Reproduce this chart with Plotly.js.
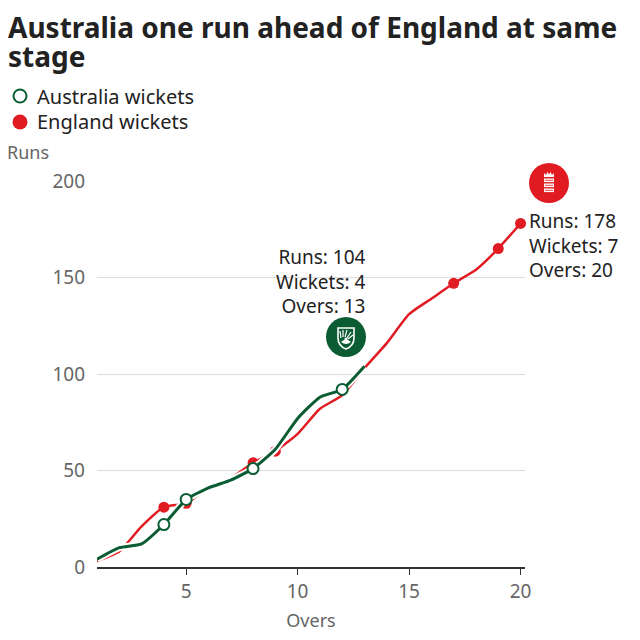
<!DOCTYPE html>
<html><head><meta charset="utf-8">
<script src="https://cdn.plot.ly/plotly-3.0.1.min.js"></script>
<style>html,body{margin:0;padding:0;background:#fff}#c{width:640px;height:640px}</style>
</head><body><div id="c"></div>
<script>
const ausOvers = [1,2,3,4,5,6,7,8,9,10,11,12,13];
const ausRuns  = [4,10,12,22,35,41,45,51,61,77,88,92,104];
const engOvers = [1,2,3,4,5,6,7,8,9,10,11,12,13,14,15,16,17,18,19,20];
const engRuns  = [3,8,21,31,33,41,46,54,60,69,82,89,103,116,131,139,147,154,165,178];
const ausWicketOvers = [4,5,8,12];
const engWicketOvers = [4,5,8,9,17,19,20];
const xTicks = [5,10,15,20];
const yTicks = [0,50,100,150,200];
const legendLabels = ['Australia wickets', 'England wickets'];
const titleLines = ['Australia one run ahead of England at same', 'stage'];

const GREEN = '#0b5c33', RED = '#e11b22';
const FONT = 'Noto Sans, sans-serif';

const ausWR = ausWicketOvers.map(o => ausRuns[ausOvers.indexOf(o)]);
const engWR = engWicketOvers.map(o => engRuns[engOvers.indexOf(o)]);

const traces = [
  {x: engOvers, y: engRuns, mode: 'lines', line: {color: RED, width: 2.5, shape: 'spline', smoothing: 0.5}, hoverinfo: 'skip'},
  {x: engWicketOvers, y: engWR, mode: 'markers', marker: {color: RED, size: 11}, cliponaxis: false},
  {x: ausOvers, y: ausRuns, mode: 'lines', line: {color: '#ffffff', width: 7, shape: 'spline', smoothing: 0.5}, hoverinfo: 'skip'},
  {x: ausOvers, y: ausRuns, mode: 'lines', line: {color: GREEN, width: 3, shape: 'spline', smoothing: 0.5}, hoverinfo: 'skip'},
  {x: ausWicketOvers, y: ausWR, mode: 'markers', marker: {color: '#ffffff', size: 11, line: {color: GREEN, width: 2}}, cliponaxis: false}
];

const ausLogo = 'data:image/svg+xml;charset=utf-8,' + encodeURIComponent(
 '<svg xmlns="http://www.w3.org/2000/svg" width="40" height="40" viewBox="0 0 40 40">' +
 '<circle cx="20" cy="20" r="20" fill="' + GREEN + '"/>' +
 '<path d="M12 11 L28 11 L28 21 Q28 29 20 32 Q12 29 12 21 Z" fill="none" stroke="#fff" stroke-width="1.6"/>' +
 '<path d="M15 21 L14 14 M17 20 L17 13 M19 20 L21 13 M21 21 L25 15 M22 22 L27 18" stroke="#fff" stroke-width="1.2"/>' +
 '<path d="M15 25 Q20 20 25 25 Q20 29 15 25 Z" fill="#fff"/>' +
 '<circle cx="20" cy="22" r="1.6" fill="#fff"/></svg>');
const engLogo = 'data:image/svg+xml;charset=utf-8,' + encodeURIComponent(
 '<svg xmlns="http://www.w3.org/2000/svg" width="40" height="40" viewBox="0 0 40 40">' +
 '<circle cx="20" cy="20" r="20" fill="' + RED + '"/>' +
 '<path d="M15 14 L15 10 L17 12 L18.5 9 L20 11.5 L21.5 9 L23 12 L25 10 L25 14 Z" fill="#fff"/>' +
 '<rect x="15" y="15.5" width="10" height="3.6" fill="#fff"/>' +
 '<rect x="15" y="20.5" width="10" height="3.6" fill="#fff"/>' +
 '<rect x="15" y="25.5" width="10" height="3.6" fill="#fff"/>' +
 '<path d="M16 17.3 H24 M16 22.3 H24 M16 27.3 H24" stroke="' + RED + '" stroke-width="0.8"/></svg>');

const L = 97, R = 525, T = 181, B = 567;
function px(x){ return (x - L) / (R - L); }
function py(y){ return (B - y) / (B - T); }

function note(x, y, text, xanchor, size, color, bold, align){
  return {xref: 'paper', yref: 'paper', x: px(x), y: py(y), xanchor: xanchor, yanchor: 'middle', showarrow: false,
          align: align || 'left', text: bold ? '<b>' + text + '</b>' : text, font: {family: FONT, size: size, color: color}};
}

const ausInfo = ['Runs: ' + ausRuns[ausRuns.length-1], 'Wickets: ' + ausWicketOvers.length, 'Overs: ' + ausOvers[ausOvers.length-1]];
const engInfo = ['Runs: ' + engRuns[engRuns.length-1], 'Wickets: ' + engWicketOvers.length, 'Overs: ' + engOvers[engOvers.length-1]];

const annotations = [
  note(6, 27, titleLines[0], 'left', 28, '#222', true),
  note(6, 56, titleLines[1], 'left', 28, '#222', true),
  note(35, 96, legendLabels[0], 'left', 20, '#222'),
  note(35, 122, legendLabels[1], 'left', 20, '#222'),
  note(5, 152, 'Runs', 'left', 18, '#666'),
  note(368, 281, ausInfo.join('<br>'), 'right', 19, '#222', false, 'right'),
  note(527, 245, engInfo.join('<br>'), 'left', 19, '#222', false, 'left')
];

const layout = {
  width: 640, height: 640,
  margin: {l: L, r: 640 - R, t: T, b: 640 - B, autoexpand: false},
  paper_bgcolor: '#fff', plot_bgcolor: '#fff',
  font: {family: FONT, color: '#222'},
  showlegend: false,
  xaxis: {range: [1, 20.2], tickvals: xTicks, ticks: 'outside', ticklen: 6, tickwidth: 1, tickcolor: '#333',
          showline: true, linecolor: '#333', linewidth: 2, showgrid: false, zeroline: false, automargin: false,
          tickfont: {family: FONT, size: 19, color: '#666'},
          title: {text: 'Overs', font: {family: FONT, size: 18, color: '#666'}, standoff: 12}},
  yaxis: {range: [0, 200], tickvals: yTicks, showgrid: true, gridcolor: '#dcdcdc', gridwidth: 1, zeroline: false,
          showline: false, ticks: '', ticklabelstandoff: 11, automargin: false, tickfont: {family: FONT, size: 19, color: '#666'}},
  shapes: [
    {type: 'circle', xref: 'paper', yref: 'paper', xsizemode: 'pixel', ysizemode: 'pixel',
     xanchor: px(20), yanchor: py(96), x0: -6.5, x1: 6.5, y0: -6.5, y1: 6.5, fillcolor: '#fff', line: {color: GREEN, width: 2}},
    {type: 'circle', xref: 'paper', yref: 'paper', xsizemode: 'pixel', ysizemode: 'pixel',
     xanchor: px(20), yanchor: py(122), x0: -7.5, x1: 7.5, y0: -7.5, y1: 7.5, fillcolor: RED, line: {color: RED, width: 0}}
  ],
  annotations: annotations,
  images: [
    {source: ausLogo, xref: 'paper', yref: 'paper', x: px(346), y: py(337), sizex: 40/(R-L), sizey: 40/(B-T), xanchor: 'center', yanchor: 'middle', sizing: 'contain', layer: 'above'},
    {source: engLogo, xref: 'paper', yref: 'paper', x: px(549), y: py(183), sizex: 40/(R-L), sizey: 40/(B-T), xanchor: 'center', yanchor: 'middle', sizing: 'contain', layer: 'above'}
  ]
};

Plotly.newPlot('c', traces, layout, {displayModeBar: false, staticPlot: true});
</script></body></html>
